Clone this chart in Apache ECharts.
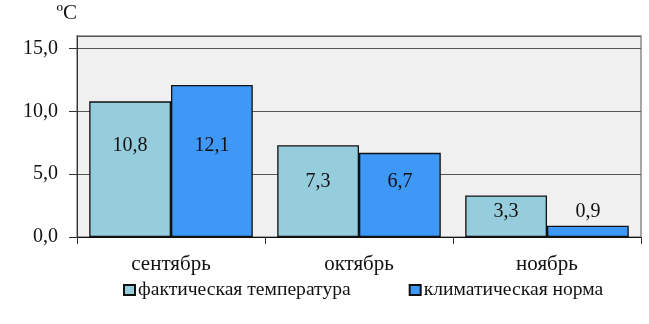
<!DOCTYPE html>
<html>
<head>
<meta charset="utf-8">
<script src="https://cdn.jsdelivr.net/npm/echarts@6/dist/echarts.min.js"></script>
<style>
  html, body { margin: 0; padding: 0; background: #fff; }
  #chart { width: 649px; height: 324px; }
</style>
</head>
<body>
<div id="chart"></div>
<script>
// Monthly mean air temperature vs. climatic norm
const months = ['сентябрь', 'октябрь', 'ноябрь'];
const actualTemp = [10.8, 7.3, 3.3];
const climateNorm = [12.1, 6.7, 0.9];
const seriesNames = ['фактическая температура', 'климатическая норма'];
const unitLabel = 'ºC';

const FONT = '"Liberation Serif", "Times New Roman", serif';
const fmt = v => v.toFixed(1).replace('.', ',');

// Labels in a month share one height: a fixed fraction of the taller bar
const LABEL_FRACTION = 0.6;
function withLabels(values) {
  return values.map((v, i) => {
    const level = Math.max(actualTemp[i], climateNorm[i]) * LABEL_FRACTION;
    const pct = (1 - level / v) * 100;
    return {
      value: v,
      label: { position: ['50%', pct + '%'] }
    };
  });
}

const labelStyle = {
  show: true,
  formatter: p => fmt(p.value),
  align: 'center',
  verticalAlign: 'middle',
  color: '#111',
  fontFamily: FONT,
  fontSize: 20
};

const chart = echarts.init(document.getElementById('chart'), null, { renderer: 'canvas' });
chart.setOption({
  animation: false,
  backgroundColor: '#fff',
  grid: {
    left: 77, right: 8, top: 36, bottom: 87,
    show: true,
    backgroundColor: '#f0f0f0',
    borderColor: '#8a8a8a',
    borderWidth: 1.5
  },
  legend: {
    left: 123, top: 280,
    padding: 0,
    itemWidth: 11, itemHeight: 10,
    itemGap: 58,
    icon: 'rect',
    textStyle: { fontFamily: FONT, fontSize: 19.6, color: '#111', padding: [0, 0, 0, -2] },
    data: seriesNames
  },
  xAxis: {
    type: 'category',
    data: months,
    axisLine: { lineStyle: { color: '#111', width: 1 } },
    axisTick: { show: true, length: 7, lineStyle: { color: '#333' } },
    axisLabel: { fontFamily: FONT, fontSize: 21, color: '#111', margin: 17 }
  },
  yAxis: {
    type: 'value',
    min: 0, max: 16, interval: 5,
    name: unitLabel,
    nameLocation: 'end',
    nameGap: 12,
    nameTextStyle: { fontFamily: FONT, fontSize: 21, color: '#111', align: 'right', padding: [0, 0, 0, 0] },
    axisLine: { show: true, lineStyle: { color: '#333', width: 1 } },
    axisTick: { show: true, length: 8, lineStyle: { color: '#333' } },
    axisLabel: {
      fontFamily: FONT, fontSize: 20, color: '#111', margin: 19,
      showMaxLabel: false,
      formatter: v => (v % 5 === 0 ? fmt(v) : '')
    },
    splitLine: { show: true, lineStyle: { color: '#555', width: 1 } }
  },
  series: [
    {
      name: seriesNames[0],
      type: 'bar',
      data: withLabels(actualTemp),
      barGap: '0%',
      barCategoryGap: '13%',
      itemStyle: { color: '#96cddc', borderColor: '#111', borderWidth: 1.3 },
      label: labelStyle
    },
    {
      name: seriesNames[1],
      type: 'bar',
      data: withLabels(climateNorm),
      itemStyle: { color: '#3d98f8', borderColor: '#111', borderWidth: 1.3 },
      label: labelStyle
    }
  ]
});
</script>
</body>
</html>
